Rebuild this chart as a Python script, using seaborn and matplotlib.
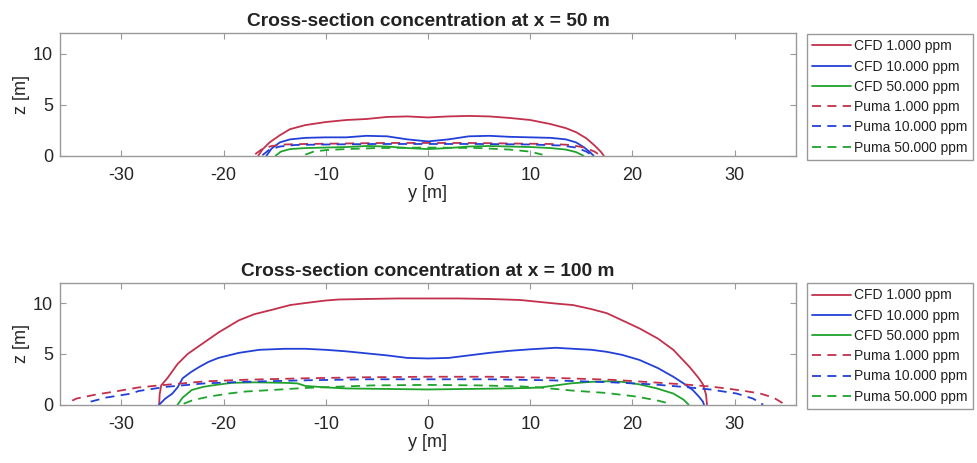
import numpy as np
import matplotlib
matplotlib.use("Agg")
import matplotlib.pyplot as plt
import seaborn as sns

# ---- data: (y [m], z [m]) contour lines ----
# cross-section at x = 50 m
cfd1000_50_y = [-16.6, -16.2, -15.5, -14.5, -13.5, -12, -10, -8, -6, -4, -2, 0, 2, 4, 6, 8, 10, 12, 13.5, 14.5, 15.5, 16.3, 16.9, 17.2]
cfd1000_50_z = [0, 0.6, 1.3, 2.0, 2.6, 3.0, 3.3, 3.5, 3.6, 3.8, 3.85, 3.75, 3.85, 3.9, 3.85, 3.7, 3.5, 3.1, 2.7, 2.3, 1.7, 1.0, 0.4, 0]
cfd10000_50_y = [-15.8, -15.3, -14.5, -13.5, -12, -10, -8, -6, -4, -2, 0, 2, 4, 6, 8, 10, 12, 13.5, 14.5, 15.3, 15.9, 16.2]
cfd10000_50_z = [0, 0.7, 1.3, 1.6, 1.75, 1.8, 1.8, 1.95, 1.9, 1.6, 1.4, 1.6, 1.9, 1.95, 1.85, 1.8, 1.75, 1.6, 1.3, 0.8, 0.3, 0]
cfd50000_50_y = [-14.9, -14.4, -13.5, -12, -10, -8, -6, -4, -2, 0, 2, 4, 6, 8, 10, 12, 13.5, 14.5, 15.2]
cfd50000_50_z = [0, 0.4, 0.65, 0.75, 0.8, 0.85, 0.95, 0.9, 0.75, 0.65, 0.75, 0.9, 0.95, 0.9, 0.85, 0.75, 0.6, 0.35, 0]
puma1000_50_y = [-16.9, -16.3, -15.3, -14, -12, -8, -4, 0, 4, 8, 12, 14, 15.3, 16.3, 16.9]
puma1000_50_z = [0.15, 0.6, 0.95, 1.1, 1.15, 1.2, 1.25, 1.25, 1.25, 1.2, 1.15, 1.05, 0.8, 0.4, 0]
puma10000_50_y = [-16.2, -15.5, -14.5, -13, -10, -5, 0, 5, 10, 13, 14.5, 15.5, 16.1]
puma10000_50_z = [0.05, 0.6, 0.9, 1.05, 1.1, 1.15, 1.15, 1.15, 1.1, 1.0, 0.8, 0.4, 0]
puma50000_50_y = [-12, -11.2, -10, -8, -5, 0, 5, 8, 10, 11.2]
puma50000_50_z = [0.1, 0.4, 0.55, 0.65, 0.75, 0.8, 0.75, 0.6, 0.4, 0.1]

# cross-section at x = 100 m
cfd1000_100_y = [-26.3, -26.25, -26.1, -25.5, -24.5, -23.5, -22.5, -21.5, -20.5, -19.5, -18.5, -17, -15.2, -13.5, -12, -10, -8.7, -6, -3, 0,
                 3, 6, 9, 11, 12.5, 14.2, 16, 17.5, 19, 20.7, 22.5, 24, 25.6, 26.5, 26.9, 27.2, 27.3]
cfd1000_100_z = [0, 1.0, 1.9, 2.6, 4.0, 5.0, 5.7, 6.4, 7.1, 7.7, 8.3, 8.9, 9.35, 9.8, 10.0, 10.25, 10.35, 10.4, 10.45, 10.45,
                 10.45, 10.4, 10.3, 10.1, 9.95, 9.8, 9.4, 9.0, 8.3, 7.5, 6.5, 5.4, 3.7, 2.6, 2.0, 1.0, 0]
cfd10000_100_y = [-26.3, -25.7, -25, -24.5, -24, -23.2, -22.4, -21.5, -20.5, -18.5, -16.5, -14, -12, -10, -8, -6, -4, -2, 0,
                  2, 4, 6, 8, 10, 12.5, 14.2, 16, 17.5, 19, 20.7, 22.5, 24, 25, 25.9, 26.5, 26.9, 27.0]
cfd10000_100_z = [0, 0.6, 1.1, 1.7, 2.6, 3.2, 3.7, 4.2, 4.6, 5.1, 5.4, 5.5, 5.5, 5.4, 5.25, 5.05, 4.85, 4.6, 4.55,
                  4.6, 4.85, 5.1, 5.3, 5.45, 5.6, 5.5, 5.4, 5.2, 4.9, 4.4, 3.6, 2.75, 2.1, 1.45, 0.8, 0.3, 0]
cfd50000_100_y = [-24.5, -24, -23.1, -22, -21.1, -19.2, -17, -14, -12.8, -12, -10, -8, -4, 0, 4, 7.6, 10, 11, 12.5, 14, 16, 17.5,
                  19, 20.7, 22.4, 24, 25, 25.5]
cfd50000_100_z = [0, 0.7, 1.45, 1.75, 1.9, 2.15, 2.2, 2.15, 2.1, 1.85, 1.7, 1.6, 1.55, 1.5, 1.55, 1.6, 1.65, 1.7, 1.9, 2.1, 2.25, 2.3,
                  2.25, 2.0, 1.6, 1.1, 0.5, 0]
puma1000_100_y = [-34.8, -34.4, -32.5, -30.6, -28.3, -26.3, -24, -21.8, -18, -12, -6, 0, 6, 12, 18, 22, 25, 27.5, 29.2, 31, 32.5, 33.8, 34.8]
puma1000_100_z = [0.4, 0.6, 1.0, 1.3, 1.7, 1.9, 2.1, 2.3, 2.45, 2.6, 2.7, 2.75, 2.75, 2.65, 2.45, 2.2, 2.0, 1.8, 1.6, 1.35, 1.1, 0.7, 0.1]
puma10000_100_y = [-33, -31.5, -29, -28.3, -25.7, -21.8, -18, -12, -6, 0, 6, 12, 18, 22, 25, 27.6, 30.2, 31.8, 32.8]
puma10000_100_z = [0.3, 0.7, 1.1, 1.35, 1.75, 2.1, 2.25, 2.4, 2.5, 2.5, 2.5, 2.4, 2.2, 2.0, 1.75, 1.5, 1.1, 0.6, 0]
puma50000_100_y = [-23.9, -23, -21.4, -19.5, -17.8, -15.2, -12, -8, -5.4, 0, 5, 9, 10.9, 14, 17.5, 20.4, 22.5, 23.7]
puma50000_100_z = [0.1, 0.45, 0.8, 1.1, 1.3, 1.45, 1.65, 1.8, 1.9, 1.95, 1.9, 1.8, 1.7, 1.4, 1.15, 0.8, 0.4, 0.1]

labels = ["CFD 1.000 ppm", "CFD 10.000 ppm", "CFD 50.000 ppm",
          "Puma 1.000 ppm", "Puma 10.000 ppm", "Puma 50.000 ppm"]
titles = ["Cross-section concentration at x = 50 m", "Cross-section concentration at x = 100 m"]

panels = [
    [(cfd1000_50_y, cfd1000_50_z), (cfd10000_50_y, cfd10000_50_z), (cfd50000_50_y, cfd50000_50_z),
     (puma1000_50_y, puma1000_50_z), (puma10000_50_y, puma10000_50_z), (puma50000_50_y, puma50000_50_z)],
    [(cfd1000_100_y, cfd1000_100_z), (cfd10000_100_y, cfd10000_100_z), (cfd50000_100_y, cfd50000_100_z),
     (puma1000_100_y, puma1000_100_z), (puma10000_100_y, puma10000_100_z), (puma50000_100_y, puma50000_100_z)],
]

colors = ["#C3304C", "#2240D8", "#1FA32C"] * 2
styles = ["-"] * 3 + ["--"] * 3

sns.set_style("ticks")
plt.rcParams['font.family'] = ['Liberation Sans', 'DejaVu Sans']
plt.rcParams['text.color'] = '#222222'
plt.rcParams['axes.unicode_minus'] = False

fig = plt.figure(figsize=(9.77, 4.63), dpi=100)
ax_top = fig.add_axes([0.0614, 0.6637, 0.7533, 0.2644])
ax_bot = fig.add_axes([0.0614, 0.1259, 0.7533, 0.2635])
legend_tops = [0.927, 0.389]

for ax, curves, title, ltop in zip([ax_top, ax_bot], panels, titles, legend_tops):
    for (yy, zz), lab, c, ls in zip(curves, labels, colors, styles):
        sns.lineplot(x=yy, y=zz, ax=ax, color=c, label=lab, sort=False,
                     estimator=None, linewidth=1.3)
        ax.lines[-1].set_linestyle(ls)
        if ls == "--":
            ax.lines[-1].set_dashes([5, 3.5])
    ax.set_xlim(-36, 36)
    ax.set_ylim(0, 12)
    ax.set_xticks([-30, -20, -10, 0, 10, 20, 30])
    ax.set_yticks([0, 5, 10])
    ax.set_xlabel("y [m]", fontsize=13, labelpad=1)
    ax.set_ylabel("z [m]", fontsize=13, labelpad=2)
    ax.set_title(title, fontsize=13.8, fontweight="bold", pad=5)
    ax.tick_params(direction="in", length=4, width=0.8, color="#999999",
                   labelsize=13, labelcolor="#262626", top=True, right=True, pad=5)
    ax.tick_params(axis="x", pad=8)
    for sp in ax.spines.values():
        sp.set_visible(True)
        sp.set_color("#999999")
        sp.set_linewidth(1.0)
    leg = ax.legend(loc="upper left", bbox_to_anchor=(0.8257, ltop),
                    bbox_transform=fig.transFigure, borderaxespad=0,
                    fontsize=10, frameon=True, fancybox=False, framealpha=1,
                    edgecolor="#999999", handlelength=2.8, handletextpad=0.2,
                    labelspacing=0.45, borderpad=0.4)
    leg.get_frame().set_linewidth(1.0)

fig.savefig("out.png", dpi=100)
